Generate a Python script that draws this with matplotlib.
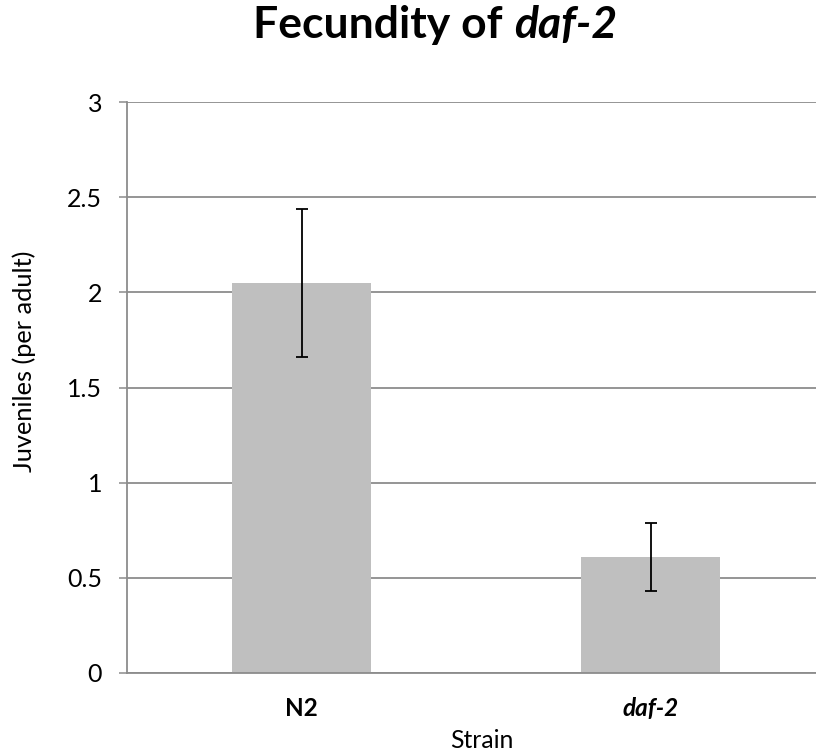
import matplotlib
matplotlib.use("Agg")
import matplotlib.pyplot as plt

categories = ["N2", "daf-2"]
values = [2.05, 0.61]
err_low = [1.66, 0.43]
err_high = [2.44, 0.79]
yticks = [0, 0.5, 1, 1.5, 2, 2.5, 3]
ytick_labels = ["0", "0.5", "1", "1.5", "2", "2.5", "3"]

FONT = ["Lato", "DejaVu Sans"]
plt.rcParams['font.family'] = FONT

W, H = 816, 753
fig = plt.figure(figsize=(W / 100, H / 100), dpi=100)
ax = fig.add_axes([127 / W, 1 - 673 / H, 1 - 127 / W, (673 - 102) / H])
AW, AH = W - 127, 673 - 102

x = list(range(len(categories)))
yerr = [[v - lo for v, lo in zip(values, err_low)],
        [hi - v for v, hi in zip(values, err_high)]]
ax.bar(x, values, width=0.4, color="#bfbfbf", zorder=2)
ax.errorbar(x, values, yerr=yerr, fmt="none", ecolor="black",
            elinewidth=1.3, capsize=4.3, capthick=1.3, zorder=3)

ax.set_xlim(-0.5, 1.474)
ax.set_ylim(0, 3)
ax.set_yticks(yticks)
ax.set_yticklabels(ytick_labels, fontsize=18)
ax.yaxis.grid(True, color="#8c8c8c", linewidth=1.3, zorder=0)
ax.set_axisbelow(True)
ax.tick_params(axis="y", direction="out", length=6, width=1.1, color="#8c8c8c", pad=12)
ax.tick_params(axis="x", length=0, pad=17)
ax.set_xticks(x)
ax.set_xticklabels(categories, fontsize=17.5, fontweight="bold")
ax.get_xticklabels()[1].set_fontstyle("italic")

for s in ["top", "right"]:
    ax.spines[s].set_visible(False)
ax.spines["left"].set_color("#8c8c8c")
ax.spines["left"].set_linewidth(1.3)
ax.spines["bottom"].set_color("#8c8c8c")
ax.spines["bottom"].set_linewidth(1.3)

ax.set_ylabel("Juveniles (per adult)", fontsize=18.3)
ax.set_xlabel("Strain", fontsize=17.8)
ax.yaxis.set_label_coords((36 - 127) / AW, (673 - 361.5) / AH)
ax.xaxis.set_label_coords((482 - 127) / AW, -(729 - 673) / AH)

# Title with mixed styles
fig.canvas.draw()
r = fig.canvas.get_renderer()
t1 = fig.text(0, 1 - 38 / H, "Fecundity of ", fontsize=32, fontweight="bold", va="baseline")
t2 = fig.text(0, 1 - 38 / H, "daf-2", fontsize=32, fontweight="bold", style="italic", va="baseline")
w1 = t1.get_window_extent(r).width
w2 = t2.get_window_extent(r).width
cx = 435
start = cx - (w1 + w2) / 2
t1.set_x(start / W)
t2.set_x((start + w1) / W)

fig.savefig("out.png", dpi=100)
